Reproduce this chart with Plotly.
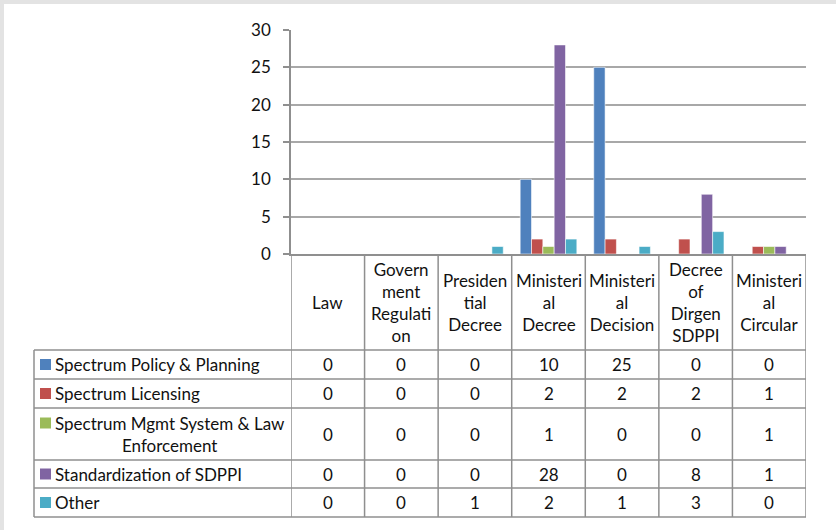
import plotly.graph_objects as go

# ---- data -------------------------------------------------------------
categories = [
    "Law",
    "Govern<br>ment<br>Regulati<br>on",
    "Presiden<br>tial<br>Decree",
    "Ministeri<br>al<br>Decree",
    "Ministeri<br>al<br>Decision",
    "Decree<br>of<br>Dirgen<br>SDPPI",
    "Ministeri<br>al<br>Circular",
]
series_names = [
    "Spectrum Policy & Planning",
    "Spectrum Licensing",
    "Spectrum Mgmt System & Law<br>Enforcement",
    "Standardization of SDPPI",
    "Other",
]
policy_planning = [0, 0, 0, 10, 25, 0, 0]
licensing = [0, 0, 0, 2, 2, 2, 1]
mgmt_enforcement = [0, 0, 0, 1, 0, 0, 1]
standardization = [0, 0, 0, 28, 0, 8, 1]
other = [0, 0, 1, 2, 1, 3, 0]
series_values = [policy_planning, licensing, mgmt_enforcement, standardization, other]
colors = ["#4F81BD", "#C0504D", "#9BBB59", "#8064A2", "#4BACC6"]
y_ticks = [0, 5, 10, 15, 20, 25, 30]

# ---- layout geometry (pixels) -----------------------------------------
W, H = 836, 530
PL, PR, PT, PB = 291, 806, 30, 254          # plot area
TABLE_L = 34                                # left edge of the series-name column
HEADER_BOTTOM = 350
ROW_EDGES = [350, 379, 408, 460, 488, 517]  # horizontal rules of the data rows
LINE_C = "#8f8f8f"
FONT = "Lato"
FS = 17
TXT = "#111111"


def xp(px):
    return (px - PL) / (PR - PL)


def yp(py):
    return (PB - py) / (PB - PT)


fig = go.Figure()
for name, vals, col in zip(series_names, series_values, colors):
    fig.add_trace(go.Bar(
        x=list(range(len(categories))), y=vals, name=name,
        marker=dict(color=col, line=dict(color="rgba(255,255,255,0.55)", width=1)),
        showlegend=False, hoverinfo="y",
    ))

shapes = []
annotations = []

# light frame strips along top and left edges
shapes.append(dict(type="rect", xref="paper", yref="paper", x0=xp(0), x1=xp(W),
                   y0=yp(0), y1=yp(4), fillcolor="#e3e3e3", line_width=0, layer="below"))
shapes.append(dict(type="rect", xref="paper", yref="paper", x0=xp(0), x1=xp(4),
                   y0=yp(0), y1=yp(H), fillcolor="#e3e3e3", line_width=0, layer="below"))

# table: horizontal rules
for r in ROW_EDGES:
    shapes.append(dict(type="line", xref="paper", yref="paper", x0=xp(TABLE_L), x1=xp(PR),
                       y0=yp(r), y1=yp(r), line=dict(color=LINE_C, width=1.5)))
# table: vertical rules
shapes.append(dict(type="line", xref="paper", yref="paper", x0=xp(TABLE_L), x1=xp(TABLE_L),
                   y0=yp(ROW_EDGES[0]), y1=yp(ROW_EDGES[-1]), line=dict(color=LINE_C, width=1.5)))
for i in range(len(categories) + 1):
    shapes.append(dict(type="line", xref="x", yref="paper", x0=i - 0.5, x1=i - 0.5,
                       y0=yp(PB), y1=yp(ROW_EDGES[-1]), line=dict(color=LINE_C, width=1.5)))

# header cells (category names)
for i, cat in enumerate(categories):
    annotations.append(dict(x=i, xref="x", y=yp((PB + HEADER_BOTTOM) / 2), yref="paper",
                            text=cat, showarrow=False, xanchor="center", yanchor="middle",
                            align="center", font=dict(family=FONT, size=FS, color=TXT)))

# data rows: legend key, series name, values
for k, (name, vals, col) in enumerate(zip(series_names, series_values, colors)):
    top, bot = ROW_EDGES[k], ROW_EDGES[k + 1]
    mid = (top + bot) / 2
    nlines = name.count("<br>") + 1
    first_line_mid = mid - (nlines - 1) * 11
    shapes.append(dict(type="rect", xref="paper", yref="paper",
                       x0=xp(40), x1=xp(51), y0=yp(first_line_mid - 5.5), y1=yp(first_line_mid + 5.5),
                       fillcolor=col, line_width=0))
    annotations.append(dict(x=xp(53), xref="paper", y=yp(mid), yref="paper", text=name,
                            showarrow=False, xanchor="left", yanchor="middle", align="center",
                            font=dict(family=FONT, size=FS, color=TXT)))
    for i, v in enumerate(vals):
        annotations.append(dict(x=i, xref="x", y=yp(mid), yref="paper", text=str(v),
                                showarrow=False, xanchor="center", yanchor="middle",
                                font=dict(family=FONT, size=FS, color=TXT)))

fig.update_layout(
    width=W, height=H,
    margin=dict(l=PL, r=W - PR, t=PT, b=H - PB, pad=0),
    paper_bgcolor="white", plot_bgcolor="white",
    barmode="group", bargap=0.23, bargroupgap=0,
    shapes=shapes, annotations=annotations,
    xaxis=dict(range=[-0.5, len(categories) - 0.5], showticklabels=False, showgrid=False,
               zeroline=False, showline=True, linecolor=LINE_C, linewidth=1.5, ticks="",
               fixedrange=True),
    yaxis=dict(range=[0, 30], tickvals=y_ticks, ticktext=[str(t) for t in y_ticks],
               showgrid=True, gridcolor="#a8a8a8", gridwidth=1.5, zeroline=False,
               showline=True, linecolor=LINE_C, linewidth=1.5,
               ticks="outside", ticklen=6, tickcolor=LINE_C, tickwidth=1.5,
               ticklabelstandoff=9,
               tickfont=dict(family=FONT, size=FS, color=TXT), fixedrange=True),
    font=dict(family=FONT, color=TXT),
)

fig.write_html("out.html")
